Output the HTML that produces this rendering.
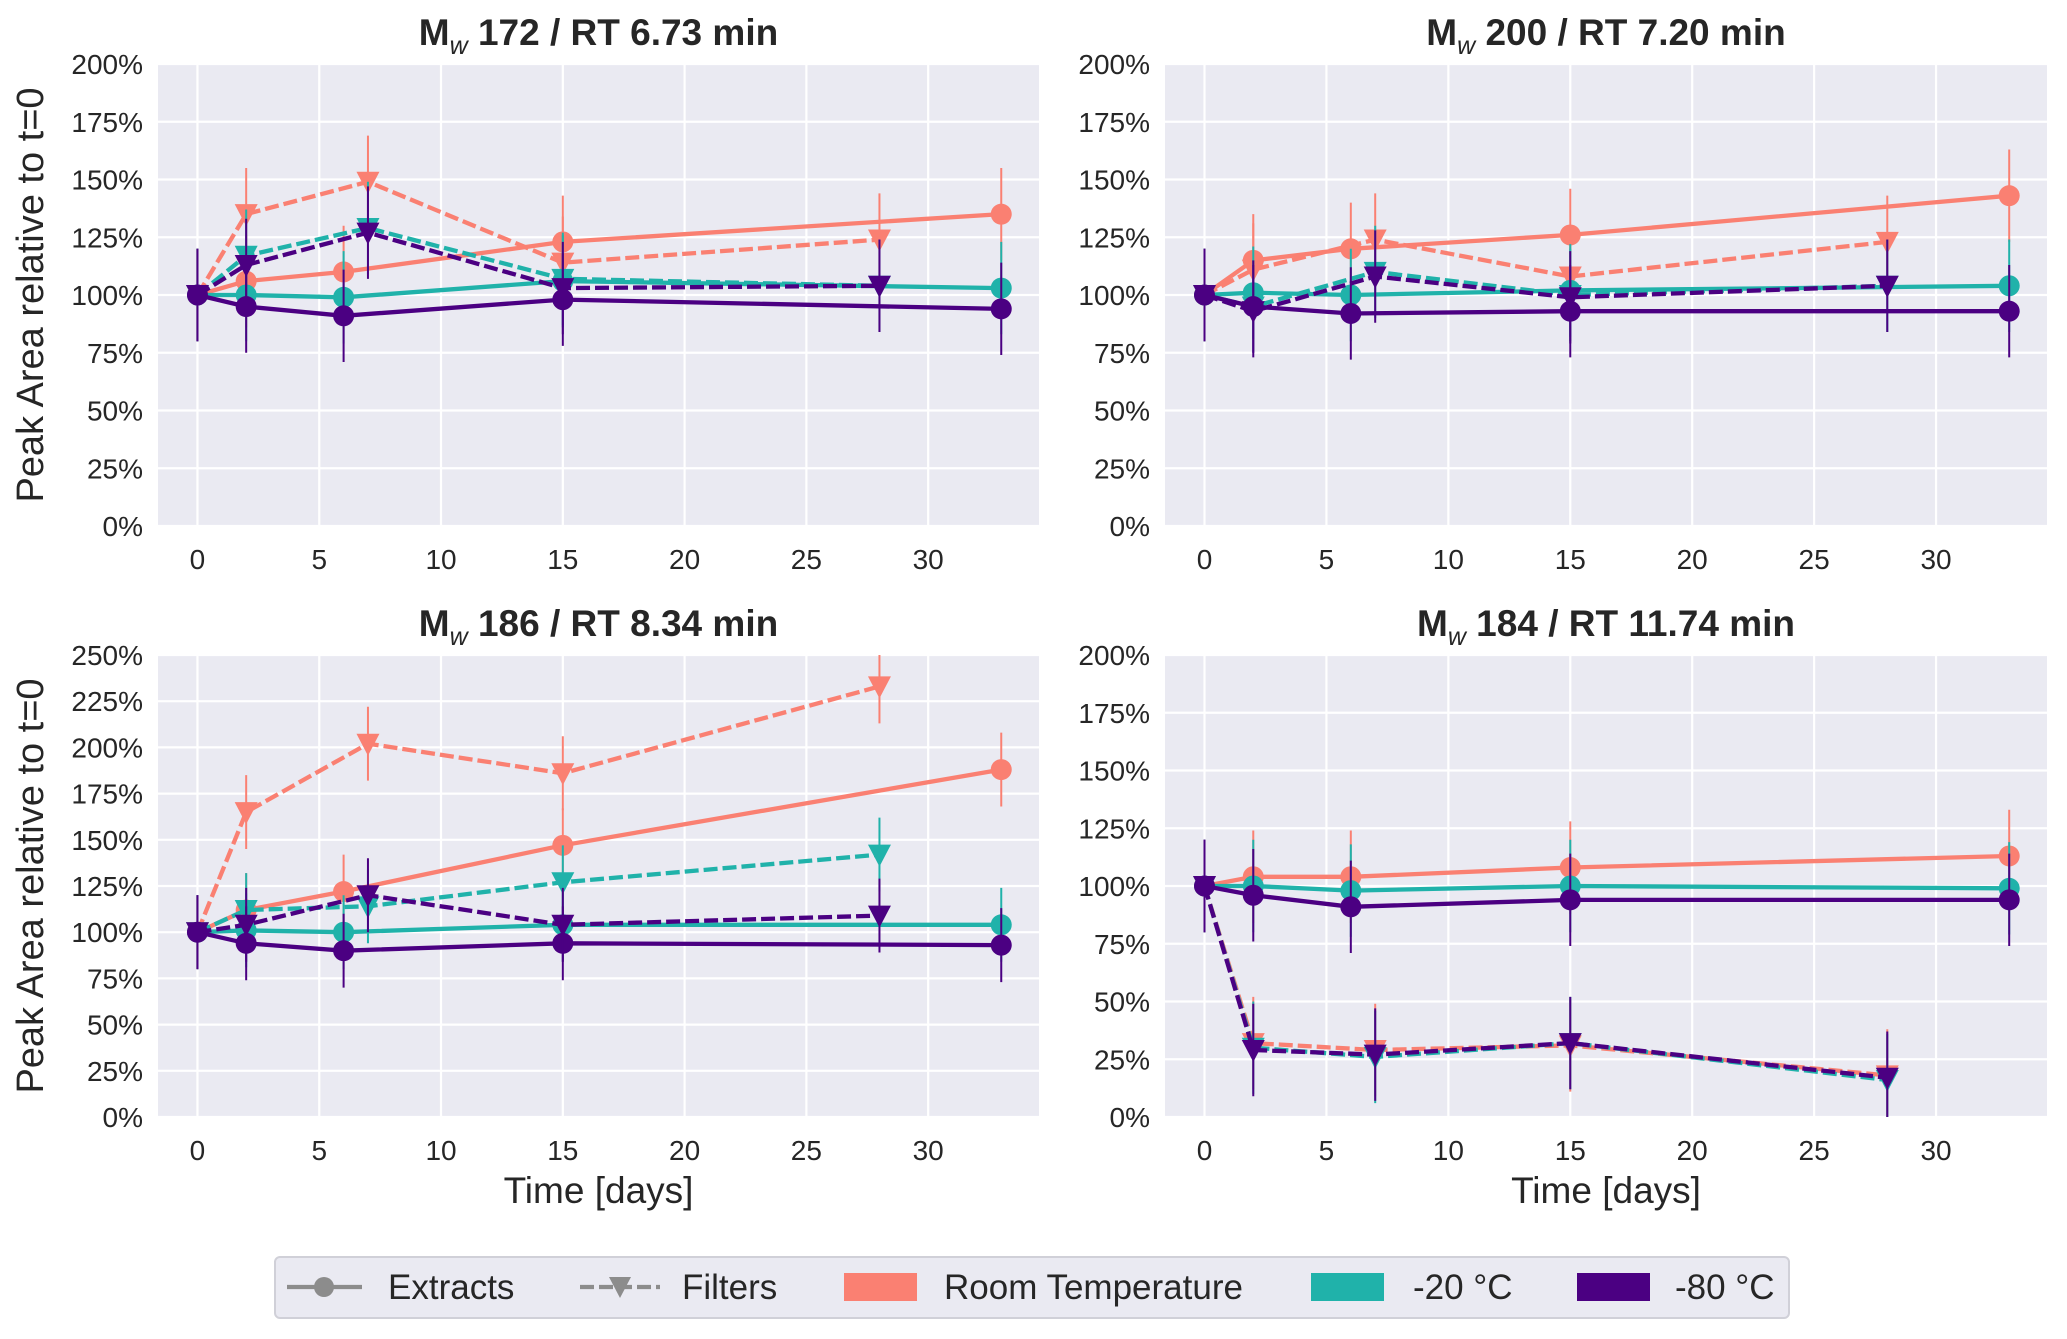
<!DOCTYPE html>
<html><head><meta charset="utf-8">
<style>
html,body{margin:0;padding:0;background:#fff;}
svg{display:block;font-family:"Liberation Sans",Arial,sans-serif;}
</style></head>
<body>
<svg id="fig" width="2067" height="1339" viewBox="0 0 2067 1339" xmlns="http://www.w3.org/2000/svg"></svg>
<script>
const extractDays = [0, 2, 6, 15, 33];
const filterDays = [0, 2, 7, 15, 28];
const xTicks = [0, 5, 10, 15, 20, 25, 30];
const temps = ["rt", "m20", "m80"];
const colors = {rt: "#FA8072", m20: "#20B2AA", m80: "#4B0082"};
const titles = ["172 / RT 6.73 min", "200 / RT 7.20 min", "186 / RT 8.34 min", "184 / RT 11.74 min"];
const yMaxes = [200, 200, 250, 200];

// Panel 1: Mw 172
const p1ExtRT = [100, 106, 110, 123, 135];
const p1ExtM20 = [100, 100, 99, 106, 103];
const p1ExtM80 = [100, 95, 91, 98, 94];
const p1FilRT = [100, 135, 149, 114, 124];
const p1FilM20 = [100, 117, 129, 107, 104];
const p1FilM80 = [100, 113, 127, 103, 104];
// Panel 2: Mw 200
const p2ExtRT = [100, 115, 120, 126, 143];
const p2ExtM20 = [100, 101, 100, 102, 104];
const p2ExtM80 = [100, 95, 92, 93, 93];
const p2FilRT = [100, 111, 124, 108, 123];
const p2FilM20 = [100, 95, 110, 100, 104];
const p2FilM80 = [100, 93, 108, 99, 104];
// Panel 3: Mw 186
const p3ExtRT = [100, 112, 122, 147, 188];
const p3ExtM20 = [100, 101, 100, 104, 104];
const p3ExtM80 = [100, 94, 90, 94, 93];
const p3FilRT = [100, 165, 202, 186, 233];
const p3FilM20 = [100, 112, 114, 127, 142];
const p3FilM80 = [100, 104, 120, 104, 109];
// Panel 4: Mw 184
const p4ExtRT = [100, 104, 104, 108, 113];
const p4ExtM20 = [100, 100, 98, 100, 99];
const p4ExtM80 = [100, 96, 91, 94, 94];
const p4FilRT = [100, 32, 29, 31, 18];
const p4FilM20 = [100, 30, 26, 32, 16];
const p4FilM80 = [100, 29, 27, 32, 17];
const errSize = 20;

const panelsExt = [
  {rt: p1ExtRT, m20: p1ExtM20, m80: p1ExtM80},
  {rt: p2ExtRT, m20: p2ExtM20, m80: p2ExtM80},
  {rt: p3ExtRT, m20: p3ExtM20, m80: p3ExtM80},
  {rt: p4ExtRT, m20: p4ExtM20, m80: p4ExtM80}];
const panelsFil = [
  {rt: p1FilRT, m20: p1FilM20, m80: p1FilM80},
  {rt: p2FilRT, m20: p2FilM20, m80: p2FilM80},
  {rt: p3FilRT, m20: p3FilM20, m80: p3FilM80},
  {rt: p4FilRT, m20: p4FilM20, m80: p4FilM80}];

const NS = "http://www.w3.org/2000/svg";
const svg = document.getElementById("fig");
function mk(tag, attrs, parent, text) {
  const e = document.createElementNS(NS, tag);
  for (const k in attrs) e.setAttribute(k, attrs[k]);
  if (text !== undefined) e.textContent = text;
  (parent || svg).appendChild(e);
  return e;
}
const boxes = [
  {l: 158, r: 1039, t: 64, b: 526},
  {l: 1165, r: 2047, t: 64, b: 526},
  {l: 158, r: 1039, t: 655, b: 1117},
  {l: 1165, r: 2047, t: 655, b: 1117}];
const xMin = -1.62, xMax = 34.55;

boxes.forEach((bx, pi) => {
  const g = mk("g", {});
  
  
  const yMax = yMaxes[pi];
  const xs = d => bx.l + (d - xMin) / (xMax - xMin) * (bx.r - bx.l);
  const ys = v => bx.b - v / yMax * (bx.b - bx.t);
  const bg = mk("rect", {x: bx.l, y: bx.t, width: bx.r - bx.l, height: bx.b - bx.t, fill: "#EAEAF2"}, g);
  
  
  for (let v = 0; v <= yMax; v += 25) {
    mk("line", {x1: bx.l, x2: bx.r, y1: ys(v), y2: ys(v), stroke: "#fff", "stroke-width": 2.2}, g);
    const t = mk("text", {x: bx.l - 15, y: ys(v) + 10, "text-anchor": "end", "font-size": 28, fill: "#262626"}, g, v + "%");
    
    
  }
  xTicks.forEach(d => {
    mk("line", {x1: xs(d), x2: xs(d), y1: bx.t, y2: bx.b, stroke: "#fff", "stroke-width": 2.2}, g);
    const t = mk("text", {x: xs(d), y: bx.b + 43, "text-anchor": "middle", "font-size": 28, fill: "#262626"}, g, String(d));
    
    
  });
  const tt = mk("text", {x: (bx.l + bx.r) / 2, y: bx.t - 19, "text-anchor": "middle", "font-size": 37, "font-weight": "bold", fill: "#262626"}, g);
  
  
  mk("tspan", {}, tt, "M");
  mk("tspan", {"font-size": 25, "font-style": "italic", "font-weight": "normal", dy: 9}, tt, "w");
  mk("tspan", {dy: -9}, tt, " " + titles[pi]);
  const cp = mk("clipPath", {id: "clip" + pi}, g);
  mk("rect", {x: bx.l, y: bx.t, width: bx.r - bx.l, height: bx.b - bx.t}, cp);
  const dg = mk("g", {"clip-path": "url(#clip" + pi + ")"}, g);
  temps.forEach(tk => {
    const c = colors[tk];
    [["ext", extractDays, panelsExt[pi][tk]], ["fil", filterDays, panelsFil[pi][tk]]].forEach(([kind, days, vals]) => {
      vals.forEach((v, i) => {
        const eb = mk("line", {x1: xs(days[i]), x2: xs(days[i]), y1: ys(v - errSize), y2: ys(v + errSize), stroke: c, "stroke-width": 2}, dg);
        
        
      });
      const pts = vals.map((v, i) => xs(days[i]).toFixed(1) + "," + ys(v).toFixed(1)).join(" ");
      const ln = mk("polyline", {points: pts, fill: "none", stroke: c, "stroke-width": 4.3, "stroke-dasharray": kind === "fil" ? "14,5" : "none"}, dg);
      
      
      vals.forEach((v, i) => {
        const x = xs(days[i]), y = ys(v);
        let m;
        if (kind === "ext") {
          m = mk("circle", {cx: x, cy: y, r: 10.5, fill: c}, dg);
        } else {
          m = mk("polygon", {points: (x - 11.5) + "," + (y - 10) + " " + (x + 11.5) + "," + (y - 10) + " " + x + "," + (y + 12), fill: c}, dg);
        }
        
        
      });
    });
  });
  if (pi % 2 === 0) {
    const yl = mk("text", {x: 0, y: 0, transform: "translate(43," + ((bx.t + bx.b) / 2) + ") rotate(-90)", "text-anchor": "middle", "font-size": 38, fill: "#262626"}, g, "Peak Area relative to t=0");
    
    
  }
  if (pi >= 2) {
    const xl = mk("text", {x: (bx.l + bx.r) / 2, y: 1203, "text-anchor": "middle", "font-size": 37, fill: "#262626"}, g, "Time [days]");
    
    
  }
});

const lg = mk("g", {});


mk("rect", {x: 275, y: 1257, width: 1514, height: 61, rx: 5, fill: "#EAEAF2", stroke: "#d0d0d8", "stroke-width": 2}, lg);
const ly = 1287;
mk("line", {x1: 287, x2: 362, y1: ly, y2: ly, stroke: "#8c8c8c", "stroke-width": 4.3}, lg);
mk("circle", {cx: 324, cy: ly, r: 10, fill: "#8c8c8c"}, lg);
mk("line", {x1: 580, x2: 660, y1: ly, y2: ly, stroke: "#8c8c8c", "stroke-width": 4.3, "stroke-dasharray": "14,5"}, lg);
mk("polygon", {points: "609,1277 631,1277 620,1298", fill: "#8c8c8c"}, lg);
mk("rect", {x: 844, y: 1273, width: 73, height: 28, fill: colors.rt}, lg);
mk("rect", {x: 1311, y: 1273, width: 73, height: 28, fill: colors.m20}, lg);
mk("rect", {x: 1577, y: 1273, width: 73, height: 28, fill: colors.m80}, lg);
[[388, "Extracts", "legend-entry-extracts"], [682, "Filters", "legend-entry-filters"], [944, "Room Temperature", "legend-entry-room-temperature"], [1413, "-20 °C", "legend-entry-minus20"], [1675, "-80 °C", "legend-entry-minus80"]].forEach(([x, t, n]) => {
  const e = mk("text", {x: x, y: ly + 12, "font-size": 35, fill: "#262626"}, lg, t);
  
  
});
</script>
</body></html>
